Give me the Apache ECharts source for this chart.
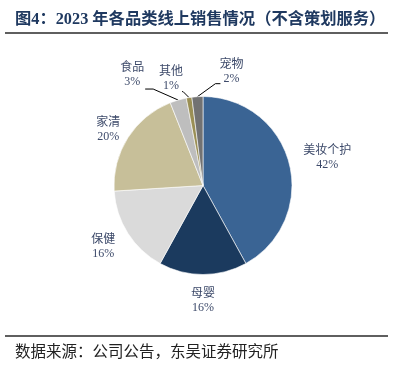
<!DOCTYPE html>
<html>
<head>
<meta charset="utf-8">
<script src="https://cdn.jsdelivr.net/npm/echarts@6/dist/echarts.min.js"></script>
<style>
html,body{margin:0;padding:0;background:#fff;}
#chart{width:396px;height:373px;}
</style>
</head>
<body>
<div id="chart"></div>
<script>
// ---- data ----
const categories = ['美妆个护', '母婴', '保健', '家清', '食品', '其他', '宠物'];
const shares = [42, 16, 16, 20, 3, 1, 2];
const titleText = '图4：2023 年各品类线上销售情况（不含策划服务）';
const sourceText = '数据来源：公司公告，东吴证券研究所';

// ---- styles ----
const sliceColors = ['#3a6494', '#1b3a5e', '#dadada', '#c7bf99', '#bebebe', '#9a8f55', '#727272'];
const smallSlice = [false, false, false, false, true, true, true];
// label offsets (styling) for the big labels placed on the outer ring
const bigLabelShift = [[11, 1], [0, -1.5], [-1, -1], [4, 7], [0, 0], [0, 0], [0, 0]];
// small label placements relative to slice edge point: label centre, then leader elbows
const smallLabelShift = {
  4: {c: [-46, -25], l: [[-25, -11], [-33, -11]]},
  5: {c: [-18, -19], l: [[-6, -6], [-7, -6]]},
  6: {c: [34, -25], l: [[18, -13], [23, -13]]}
};
const serif = '"Liberation Serif", "Noto Sans CJK SC", serif';
const labelColor = '#3d4a6a';

const chart = echarts.init(document.getElementById('chart'), null, {renderer: 'canvas'});

const mainData = categories.map((name, i) => ({
  name: name,
  value: shares[i],
  itemStyle: {color: sliceColors[i]},
  label: {show: smallSlice[i]},
  labelLine: {show: smallSlice[i]}
}));
const ringData = categories.map((name, i) => ({
  name: name,
  value: shares[i],
  label: {show: !smallSlice[i]}
}));

const option = {
  backgroundColor: '#ffffff',
  animation: false,
  graphic: [
    {type: 'text', x: 15, y: 20, style: {text: titleText, fontSize: 16.3, fontWeight: 'bold', fontFamily: serif, fill: '#1f3960', verticalAlign: 'middle'}},
    {type: 'line', shape: {x1: 5, y1: 33, x2: 388, y2: 33}, style: {stroke: '#2a2a2a', lineWidth: 1.3}},
    {type: 'line', shape: {x1: 5, y1: 336, x2: 388, y2: 336}, style: {stroke: '#2a2a2a', lineWidth: 1.3}},
    {type: 'text', x: 15, y: 353, style: {text: sourceText, fontSize: 15.5, fontFamily: serif, fill: '#222', verticalAlign: 'middle'}}
  ],
  series: [
    {
      type: 'pie',
      center: [203, 185.5],
      radius: [0, 89],
      startAngle: 90,
      clockwise: true,
      avoidLabelOverlap: false,
      silent: true,
      itemStyle: {borderColor: '#ffffff', borderWidth: 0.6},
      label: {
        position: 'outside',
        formatter: '{b}\n{c}%',
        fontSize: 12,
        lineHeight: 14,
        fontFamily: serif,
        color: labelColor
      },
      labelLine: {length: 10, length2: 8, lineStyle: {color: '#000', width: 1}},
      labelLayout: function (p) {
        const s = smallLabelShift[p.dataIndex];
        if (!s || !p.labelLinePoints) return {};
        const p0 = p.labelLinePoints[0];
        return {
          x: p0[0] + s.c[0],
          y: p0[1] + s.c[1],
          align: 'center',
          verticalAlign: 'middle',
          labelLinePoints: [
            [p0[0], p0[1]],
            [p0[0] + s.l[0][0], p0[1] + s.l[0][1]],
            [p0[0] + s.l[1][0], p0[1] + s.l[1][1]]
          ]
        };
      },
      data: mainData
    },
    {
      type: 'pie',
      center: [203, 185.5],
      radius: [89, 139],
      startAngle: 90,
      clockwise: true,
      silent: true,
      itemStyle: {color: 'rgba(0,0,0,0)'},
      emphasis: {disabled: true},
      label: {
        position: 'inside',
        formatter: '{b}\n{c}%',
        fontSize: 12,
        lineHeight: 14,
        fontFamily: serif,
        color: labelColor
      },
      labelLine: {show: false},
      labelLayout: function (p) {
        const d = bigLabelShift[p.dataIndex];
        return {dx: d[0], dy: d[1]};
      },
      data: ringData
    }
  ]
};
chart.setOption(option);
</script>
</body>
</html>
